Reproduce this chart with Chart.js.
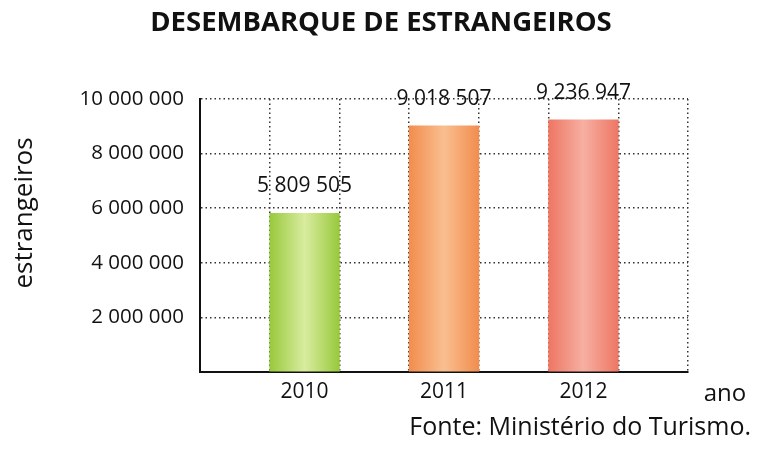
<!DOCTYPE html>
<html>
<head>
<meta charset="utf-8">
<script src="https://cdn.jsdelivr.net/npm/chart.js@4.4.1/dist/chart.umd.min.js"></script>
<style>
  html, body { margin: 0; padding: 0; background: #ffffff; }
  #wrap { width: 766px; height: 449px; position: relative; }
</style>
</head>
<body>
<div id="wrap"><canvas id="c" width="766" height="449"></canvas></div>
<script>
// ---- data ----
const categories = ['2010', '2011', '2012'];
const values = [5809505, 9018507, 9236947];
const yTickValues = [2000000, 4000000, 6000000, 8000000, 10000000];
const yTickLabels = ['2 000 000', '4 000 000', '6 000 000', '8 000 000', '10 000 000'];
const valueLabels = ['5 809 505', '9 018 507', '9 236 947'];

const titleText = 'DESEMBARQUE DE ESTRANGEIROS';
const yTitle = 'estrangeiros';
const xTitle = 'ano';
const sourceText = 'Fonte: Ministério do Turismo.';

// ---- styles ----
const edgeColors = ['#98c93c', '#f28d4e', '#ee7664'];
const centerColors = ['#d9ec9f', '#f9bf90', '#f6b0a2'];
const FONT = "'Open Sans', 'Noto Sans', sans-serif";

// 7 slots: gap, bar, gap, bar, gap, bar, gap
const slotLabels = [];
const slotValues = [];
const slotCat = [];
slotLabels.push(''); slotValues.push(null); slotCat.push(-1);
categories.forEach((c, i) => {
  slotLabels.push(c); slotValues.push(values[i]); slotCat.push(i);
  slotLabels.push(''); slotValues.push(null); slotCat.push(-1);
});

function barFill(ctx) {
  const chart = ctx.chart;
  const i = slotCat[ctx.dataIndex];
  if (i < 0) return 'rgba(0,0,0,0)';
  const xs = chart.scales && chart.scales.x;
  if (!xs || !chart.chartArea) return edgeColors[i];
  const cx = xs.getPixelForValue(ctx.dataIndex);
  const w = xs.width / slotLabels.length;
  const g = chart.ctx.createLinearGradient(cx - w / 2, 0, cx + w / 2, 0);
  g.addColorStop(0, edgeColors[i]);
  g.addColorStop(0.5, centerColors[i]);
  g.addColorStop(1, edgeColors[i]);
  return g;
}

const textPlugin = {
  id: 'texts',
  afterDatasetsDraw(chart) {
    const c = chart.ctx;
    c.save();
    c.fillStyle = '#111';
    // value labels above bars
    c.font = '21px ' + FONT;
    c.textAlign = 'center';
    c.textBaseline = 'alphabetic';
    const meta = chart.getDatasetMeta(0);
    meta.data.forEach((el, idx) => {
      const i = slotCat[idx];
      if (i < 0) return;
      c.fillText(valueLabels[i], el.x, el.y - 21);
    });
    c.restore();
  },
  afterDraw(chart) {
    const c = chart.ctx;
    c.save();
    c.fillStyle = '#111';
    c.textBaseline = 'alphabetic';
    // title
    c.font = 'bold 27.5px ' + FONT;
    c.textAlign = 'center';
    c.fillText(titleText, 381, 31);
    // x title
    c.font = '24px ' + FONT;
    c.textAlign = 'center';
    c.fillText(xTitle, 725, 401);
    // source
    c.font = '25px ' + FONT;
    c.textAlign = 'right';
    c.fillText(sourceText, 751, 435);
    // y title
    c.textBaseline = 'middle';
    c.translate(25, 213);
    c.rotate(-Math.PI / 2);
    c.font = '26px ' + FONT;
    c.textAlign = 'center';
    c.fillText(yTitle, 0, 0);
    c.restore();
  }
};

new Chart(document.getElementById('c'), {
  type: 'bar',
  data: {
    labels: slotLabels,
    datasets: [{
      data: slotValues,
      backgroundColor: barFill,
      borderWidth: 0,
      barPercentage: 1,
      categoryPercentage: 1
    }]
  },
  options: {
    responsive: false,
    animation: false,
    devicePixelRatio: 1,
    layout: { padding: { left: 0, top: 99, right: 78, bottom: 0 } },
    plugins: { legend: { display: false }, tooltip: { enabled: false }, title: { display: false } },
    scales: {
      x: {
        type: 'category',
        offset: true,
        grid: { display: true, offset: true, color: '#333', lineWidth: 1.5, drawTicks: false },
        border: { display: true, color: '#111', width: 2, dash: [1.5, 3] },
        ticks: { color: '#111', font: { family: FONT, size: 21 }, padding: 7, autoSkip: false, maxRotation: 0 },
        afterFit(scale) { scale.height = 449 - 372; }
      },
      y: {
        min: 0,
        max: 10000000,
        afterBuildTicks(scale) { scale.ticks = [0].concat(yTickValues).map(v => ({ value: v })); },
        grid: { color: '#333', lineWidth: 1.5, drawTicks: false },
        border: { display: true, color: '#111', width: 2, dash: [1.5, 3] },
        ticks: {
          color: '#111',
          font: { family: FONT, size: 20.5 },
          padding: 16,
          callback(v) { const k = yTickValues.indexOf(v); return k >= 0 ? yTickLabels[k] : ''; }
        },
        afterFit(scale) { scale.width = 200; }
      }
    }
  },
  plugins: [textPlugin]
});
</script>
</body>
</html>
